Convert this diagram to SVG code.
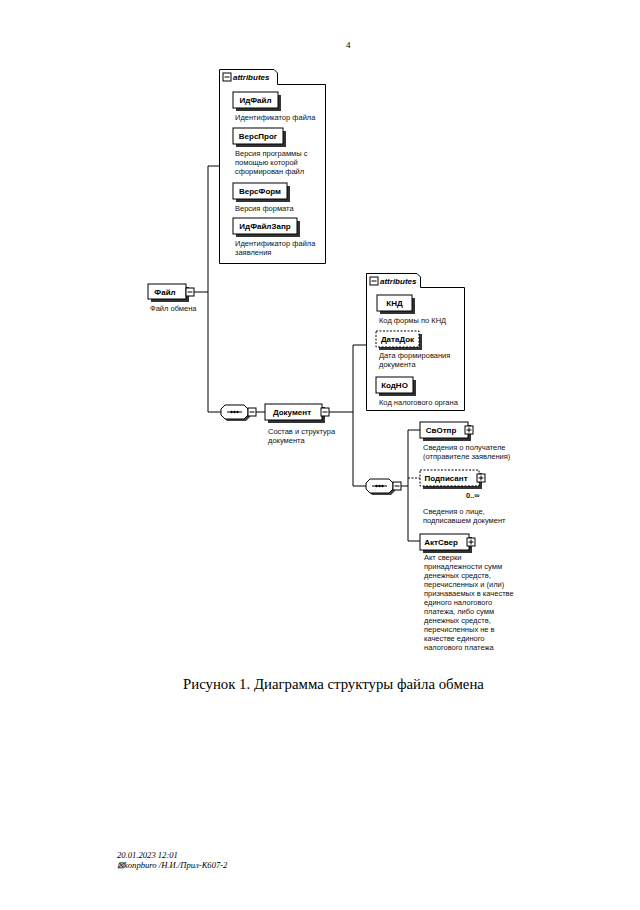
<svg xmlns="http://www.w3.org/2000/svg" width="640" height="910" viewBox="0 0 640 910">
<style>
.el{fill:#fff;stroke:#000;stroke-width:1}
.opt{fill:#fff;stroke:#000;stroke-width:1;stroke-dasharray:2 1.5}
.sh{fill:#333}
.box{fill:#fff;stroke:#000;stroke-width:1}
.wire{fill:none;stroke:#000;stroke-width:1}
.dwire{fill:none;stroke:#000;stroke-width:1;stroke-dasharray:2 1.5}
.lbl{font-family:"Liberation Sans",Arial,sans-serif;font-size:8px;font-weight:bold;fill:#000}
.desc{font-family:"Liberation Sans",Arial,sans-serif;font-size:7.5px;fill:#111}
.attr{font-family:"Liberation Sans",Arial,sans-serif;font-size:8px;font-style:italic;font-weight:bold;fill:#000}
.ser{font-family:"Liberation Serif","Times New Roman",serif;fill:#000}
</style>
<defs>
<g id="minus"><rect x="-4" y="-4" width="8" height="8" fill="#fff" stroke="#000"/><path d="M-2.5,0H2.5" stroke="#000"/></g>
<g id="plus"><rect x="-4" y="-4" width="8" height="8" fill="#fff" stroke="#000"/><path d="M-2.5,0H2.5M0,-2.5V2.5" stroke="#000"/></g>
<g id="seq">
<path d="M6,-5 H25 L29,-1 V5 L25,9 H6 L2,5 V-1 Z" fill="#444"/>
<path d="M4,-7 H23 L27,-3 V3 L23,7 H4 L0,3 V-3 Z" fill="#fff" stroke="#000"/>
<path d="M6,0 H21" stroke="#000"/>
<circle cx="10.5" cy="0" r="1.2" fill="#000"/><circle cx="13.5" cy="0" r="1.2" fill="#000"/><circle cx="16.5" cy="0" r="1.2" fill="#000"/>
<use href="#minus" x="31" y="0"/>
</g>
</defs>
<rect width="640" height="910" fill="#fff"/>
<text class="ser" x="346" y="48" font-size="9">4</text>

<g id="connectors">
<path class="wire" d="M194,292 H208 M208,166 V412 M208,166 H219.5 M208,412 H221"/>
<path class="wire" d="M256,412 H265"/>
<path class="wire" d="M329,412 H353 M353,345 V486 M353,345 H366 M353,486 H366"/>
<path class="wire" d="M400,486 H408 M408,430 V541 M408,430 H420 M408,541 H420"/>
<path class="dwire" d="M408,478 H420"/>
</g>

<g id="attributes1">
<path class="wire" d="M219.5,263.5 V69.5 H274 L277.5,73 V84.5 H325.5 V263.5 Z"/>
<use href="#minus" x="227" y="77"/>
<text class="attr" x="233" y="80">attributes</text>
</g>
<g id="node-IdFajl">
<rect class="sh" x="236" y="95" width="45" height="16"/>
<rect class="el" x="233" y="92" width="45" height="16"/>
<text class="lbl" x="255.5" y="103" text-anchor="middle">ИдФайл</text>
<text class="desc" x="235" y="120">Идентификатор файла</text>
</g>
<g id="node-VersProg">
<rect class="sh" x="236" y="131" width="50" height="16"/>
<rect class="el" x="233" y="128" width="50" height="16"/>
<text class="lbl" x="258" y="139" text-anchor="middle">ВерсПрог</text>
<text class="desc" x="235" y="156">Версия программы с</text>
<text class="desc" x="235" y="165">помощью которой</text>
<text class="desc" x="235" y="174">сформирован файл</text>
</g>
<g id="node-VersForm">
<rect class="sh" x="236" y="186" width="54" height="16"/>
<rect class="el" x="233" y="183" width="54" height="16"/>
<text class="lbl" x="260" y="194" text-anchor="middle">ВерсФорм</text>
<text class="desc" x="235" y="211">Версия формата</text>
</g>
<g id="node-IdFajlZapr">
<rect class="sh" x="236" y="221" width="64" height="16"/>
<rect class="el" x="233" y="218" width="64" height="16"/>
<text class="lbl" x="265" y="229" text-anchor="middle">ИдФайлЗапр</text>
<text class="desc" x="235" y="246">Идентификатор файла</text>
<text class="desc" x="235" y="255">заявления</text>
</g>

<g id="node-Fajl">
<rect class="sh" x="151" y="287" width="38" height="15"/>
<rect class="el" x="148" y="284" width="38" height="15"/>
<text class="lbl" x="165" y="295" text-anchor="middle">Файл</text>
<use href="#minus" x="190" y="292"/>
<text class="desc" x="150" y="311">Файл обмена</text>
</g>

<g id="seq1"><use href="#seq" x="221" y="412"/></g>

<g id="node-Dokument">
<rect class="sh" x="268" y="407" width="57" height="16"/>
<rect class="el" x="265" y="404" width="57" height="16"/>
<text class="lbl" x="292" y="415" text-anchor="middle">Документ</text>
<use href="#minus" x="325" y="412"/>
<text class="desc" x="268" y="434">Состав и структура</text>
<text class="desc" x="268" y="443">документа</text>
</g>

<g id="attributes2">
<path class="wire" d="M366.5,410.5 V273.5 H417 L420.5,277 V287.5 H464.5 V410.5 Z"/>
<use href="#minus" x="374" y="281"/>
<text class="attr" x="380" y="284">attributes</text>
</g>
<g id="node-KND">
<rect class="sh" x="380" y="298" width="35" height="16"/>
<rect class="el" x="377" y="295" width="35" height="16"/>
<text class="lbl" x="394.5" y="306" text-anchor="middle">КНД</text>
<text class="desc" x="379" y="323">Код формы по КНД</text>
</g>
<g id="node-DataDok">
<rect class="sh" x="379" y="334" width="43" height="16"/>
<rect class="opt" x="376" y="331" width="43" height="16"/>
<text class="lbl" x="397.5" y="342" text-anchor="middle">ДатаДок</text>
<text class="desc" x="379" y="358">Дата формирования</text>
<text class="desc" x="379" y="367">документа</text>
</g>
<g id="node-KodNO">
<rect class="sh" x="379" y="380" width="37" height="16"/>
<rect class="el" x="376" y="377" width="37" height="16"/>
<text class="lbl" x="394.5" y="388" text-anchor="middle">КодНО</text>
<text class="desc" x="379" y="405">Код налогового органа</text>
</g>

<g id="seq2"><use href="#seq" x="366" y="486"/></g>

<g id="node-SvOtpr">
<rect class="sh" x="423" y="425" width="48" height="16"/>
<rect class="el" x="420" y="422" width="48" height="16"/>
<text class="lbl" x="441" y="433" text-anchor="middle">СвОтпр</text>
<use href="#plus" x="469" y="430"/>
<text class="desc" x="423" y="450">Сведения о получателе</text>
<text class="desc" x="423" y="459">(отправителе заявления)</text>
</g>
<g id="node-Podpisant">
<rect class="sh" x="423" y="473" width="59" height="16"/>
<rect class="opt" x="420" y="470" width="59" height="16"/>
<text class="lbl" x="446" y="481" text-anchor="middle">Подписант</text>
<use href="#plus" x="481" y="478"/>
<text class="desc" x="466" y="498" font-weight="bold">0..∞</text>
<text class="desc" x="423" y="514">Сведения о лице,</text>
<text class="desc" x="423" y="523">подписавшем документ</text>
</g>
<g id="node-AktSver">
<rect class="sh" x="423" y="537" width="49" height="16"/>
<rect class="el" x="420" y="534" width="49" height="16"/>
<text class="lbl" x="441" y="545" text-anchor="middle">АктСвер</text>
<use href="#plus" x="471" y="542"/>
<text class="desc" x="424" y="560">Акт сверки</text>
<text class="desc" x="424" y="569">принадлежности сумм</text>
<text class="desc" x="424" y="578">денежных средств,</text>
<text class="desc" x="424" y="587">перечисленных и (или)</text>
<text class="desc" x="424" y="596">признаваемых в качестве</text>
<text class="desc" x="424" y="605">единого налогового</text>
<text class="desc" x="424" y="614">платежа, либо сумм</text>
<text class="desc" x="424" y="623">денежных средств,</text>
<text class="desc" x="424" y="632">перечисленных не в</text>
<text class="desc" x="424" y="641">качестве единого</text>
<text class="desc" x="424" y="650">налогового платежа</text>
</g>

<text class="ser" x="183" y="689" font-size="14.8">Рисунок 1. Диаграмма структуры файла обмена</text>

<text class="ser" x="117" y="858" font-size="8.6" font-style="italic">20.01.2023 12:01</text>
<text class="ser" x="117" y="868" font-size="8.6" font-style="italic">⊠konpburo /Н.И./Прил-К607-2</text>
</svg>
